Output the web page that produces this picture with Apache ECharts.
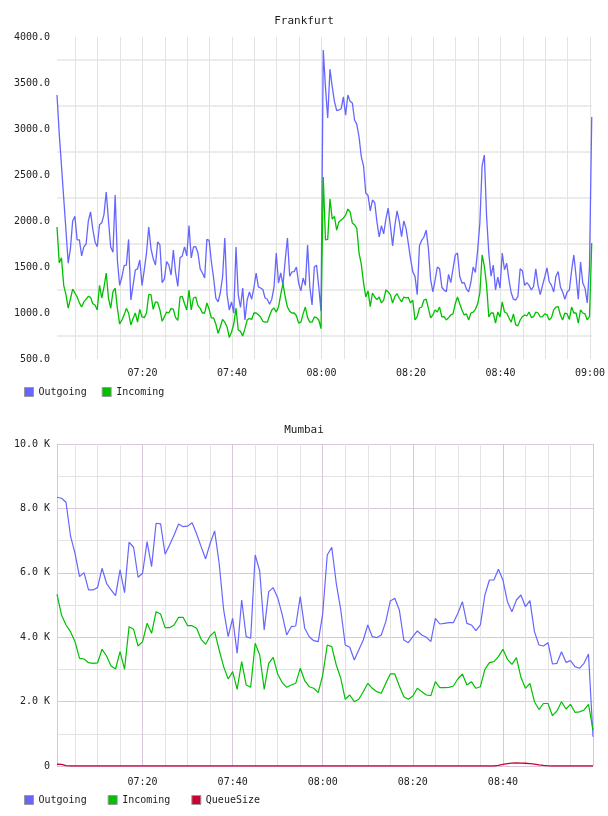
<!DOCTYPE html>
<html><head><meta charset="utf-8">
<script src="https://cdn.jsdelivr.net/npm/echarts@6/dist/echarts.min.js"></script>
<style>html,body{margin:0;padding:0;background:#fff}#c{width:608px;height:816px}</style>
</head><body><div id="c"></div>
<script>
// minutes after 07:00
const topStart = 0.9, topStep = 0.5;
const mumStart = 1, mumStep = 1;
const topTickLabels = ['07:20','07:40','08:00','08:20','08:40','09:00'];
const mumTickLabels = ['07:20','07:40','08:00','08:20','08:40'];
const seriesNames = ['Outgoing','Incoming','QueueSize'];

const frankfurtOutgoing = [
3370,2950,2600,2250,1900,1540,1700,2000,2050,1794,
1794,1620,1718,1750,2000,2100,1910,1772,1720,1960,
1980,2070,2315,2010,1718,1660,2283,1570,1300,1391,
1515,1520,1800,1141,1300,1467,1480,1576,1300,1467,
1650,1935,1700,1590,1520,1772,1740,1330,1370,1560,
1520,1413,1685,1440,1290,1600,1620,1718,1620,1950,
1598,1718,1720,1652,1480,1435,1380,1800,1790,1554,
1380,1160,1120,1220,1391,1815,1200,1033,1120,1000,
1718,1200,1060,1272,924,1141,1230,1150,1272,1435,
1283,1272,1255,1163,1150,1095,1150,1283,1652,1326,
1435,1300,1576,1815,1400,1446,1450,1500,1326,1240,
1380,1300,1740,1283,1087,1500,1520,1283,1020,3859,
3450,3120,3650,3460,3300,3200,3207,3220,3350,3150,
3370,3300,3283,3098,3050,2913,2700,2600,2304,2280,
2110,2228,2200,1990,1826,1950,1860,2020,2140,1950,
1730,1950,2110,1990,1830,2000,1920,1760,1590,1450,
1400,1200,1730,1790,1826,1900,1700,1360,1230,1359,
1500,1480,1280,1250,1230,1420,1330,1480,1630,1652,
1400,1326,1330,1260,1230,1337,1500,1440,1680,1980,
2600,2717,2050,1650,1400,1520,1250,1391,1270,1652,
1470,1540,1359,1220,1150,1141,1180,1480,1460,1300,
1330,1300,1250,1290,1480,1300,1200,1300,1391,1490,
1340,1300,1228,1400,1450,1283,1228,1150,1228,1250,
1460,1631,1400,1150,1554,1326,1270,1109,1500,3130];

const frankfurtIncoming = [
1935,1544,1600,1300,1200,1054,1150,1260,1217,1174,
1110,1065,1120,1150,1180,1170,1100,1087,1033,1300,
1163,1280,1435,1163,1050,1230,1272,1050,880,924,
980,1050,1000,870,940,1000,900,1040,957,950,
1000,1200,1200,1040,1120,1115,1033,910,960,1010,
1000,1050,1040,950,920,1174,1180,1100,1033,1250,
1033,1163,1174,1080,1050,1000,1000,1109,1040,946,
946,880,780,850,930,900,848,735,793,880,
1054,815,800,750,830,924,940,930,1000,1000,
980,957,910,900,900,970,1033,1055,1010,1065,
1200,1320,1174,1065,1020,1000,1000,970,891,900,
990,1065,950,900,900,957,950,924,830,2478,
1794,1800,2240,2020,2050,1900,1990,2011,2030,2065,
2130,2100,1978,1957,1920,1652,1530,1330,1174,1240,
1070,1217,1174,1145,1174,1109,1140,1250,1230,1200,
1109,1180,1210,1160,1120,1174,1165,1170,1109,1140,
924,960,1054,1065,1141,1150,1050,946,980,1033,
1011,1065,957,960,924,950,978,990,1100,1174,
1100,1033,978,990,924,1000,1010,1040,1100,1220,
1631,1510,1300,957,1000,1000,891,1011,957,1120,
1011,1000,946,900,990,870,860,924,960,978,
970,1011,950,960,1011,1000,957,960,990,980,
924,950,1033,1065,1070,978,924,1000,990,930,
1065,1000,1000,891,1033,1000,990,924,960,1761];

const mumbaiOutgoing = [
8346,8315,8191,7144,6606,5880,6004,5467,5467,5539,
6140,5674,5467,5290,6088,5383,6948,6793,5861,5985,
6968,6191,7538,7518,6575,6865,7175,7517,7433,7450,
7557,7206,6812,6430,6917,7300,6296,4846,4016,4588,
3500,5156,4016,3966,6554,6057,4224,5414,5539,5228,
4700,4069,4327,4348,5259,4276,4016,3892,3861,4742,
6554,6793,5674,4846,3758,3686,3292,3603,3913,4380,
4016,3985,4069,4482,5125,5209,4846,3913,3830,4016,
4193,4069,3996,3861,4588,4410,4431,4451,4451,4742,
5103,4431,4380,4203,4380,5311,5777,5777,6109,5777,
5103,4793,5156,5311,4948,5135,4172,3758,3727,3830,
3168,3189,3550,3220,3271,3085,3034,3189,3479,910];

const mumbaiIncoming = [
5333,4690,4380,4172,3861,3345,3323,3209,3189,3200,
3624,3417,3106,3013,3550,3003,4327,4245,3727,3861,
4431,4120,4793,4721,4296,4296,4380,4618,4618,4358,
4358,4276,3934,3779,4038,4172,3603,3085,2702,2929,
2382,3240,2516,2444,3810,3448,2382,3189,3376,2858,
2588,2444,2516,2568,3034,2650,2463,2413,2277,2827,
3758,3706,3137,2724,2072,2205,1997,2072,2308,2568,
2413,2308,2258,2568,2858,2858,2485,2152,2072,2174,
2413,2308,2205,2184,2619,2433,2433,2440,2485,2702,
2858,2516,2619,2413,2463,3003,3209,3240,3396,3624,
3313,3158,3364,2754,2413,2568,1997,1754,1941,1941,
1562,1708,1997,1770,1916,1668,1680,1739,1916,1118];

const mumbaiQueue = [
55,50,10,0,0,0,0,0,0,0,
0,0,0,0,0,0,0,0,0,0,
0,0,0,0,0,0,0,0,0,0,
0,0,0,0,0,0,0,0,0,0,
0,0,0,0,0,0,0,0,0,0,
0,0,0,0,0,0,0,0,0,0,
0,0,0,0,0,0,0,0,0,0,
0,0,0,0,0,0,0,0,0,0,
0,0,0,0,0,0,0,0,0,0,
0,0,0,0,0,0,0,0,20,50,
75,90,95,92,85,72,55,35,18,5,
0,0,0,0,0,0,0,0,0,0];

const colors = {out:'#6666ff', inc:'#00c000', queue:'#cc0033'};
const FONT = 'DejaVu Sans Mono';
const purple = '#dcc6dc', gray = '#e3e3e3';

function pairs(arr, start, step){ return arr.map((v,i)=>[start+i*step, v]); }
function hm(m){ const h = 7 + Math.floor(m/60), mm = Math.round(m%60); return (h<10?'0':'')+h+':'+(mm<10?'0':'')+mm; }
function timeFmt(list){ return function(v){ const s = hm(v); return (Math.abs(v%20)<1e-6 && list.indexOf(s)>=0) ? s : ''; }; }

const chart = echarts.init(document.getElementById('c'), null, {renderer:'canvas'});
const lbl = {fontFamily:FONT, fontSize:10, color:'#222'};
chart.setOption({
  animation:false,
  backgroundColor:'#fff',
  title:[
    {text:'Frankfurt', left:'center', top:11, textStyle:{fontFamily:FONT, fontSize:11, fontWeight:'normal', color:'#222'}},
    {text:'Mumbai', left:'center', top:420, textStyle:{fontFamily:FONT, fontSize:11, fontWeight:'normal', color:'#222'}}
  ],
  legend:[
    {data:['Outgoing','Incoming'], left:24, top:387, orient:'horizontal', icon:'rect', itemWidth:9, itemHeight:9, itemGap:15, padding:0,
     itemStyle:{borderColor:'#999', borderWidth:1}, textStyle:{fontFamily:FONT, fontSize:10, color:'#222'}},
    {data:['Outgoing','Incoming','QueueSize'], left:24, top:795, orient:'horizontal', icon:'rect', itemWidth:9, itemHeight:9, itemGap:21, padding:0,
     itemStyle:{borderColor:'#999', borderWidth:1}, textStyle:{fontFamily:FONT, fontSize:10, color:'#222'}}
  ],
  grid:[
    {left:57, top:37, width:536, height:322},
    {left:57, top:444, width:536, height:322}
  ],
  xAxis:[
    {gridIndex:0, type:'value', min:topStart, max:120.45, splitNumber:24, minInterval:5, maxInterval:5,
     axisLine:{show:false}, axisTick:{show:false},
     axisLabel:Object.assign({margin:9, formatter:timeFmt(topTickLabels), showMinLabel:true, showMaxLabel:true}, lbl),
     splitLine:{show:true, showMinLine:false, showMaxLine:false, lineStyle:{color:gray, width:1}}},
    {gridIndex:1, type:'value', min:mumStart, max:120, splitNumber:24, minInterval:5, maxInterval:5,
     axisLine:{show:false}, axisTick:{show:false},
     axisLabel:Object.assign({margin:11, formatter:timeFmt(mumTickLabels)}, lbl),
     splitLine:{show:true, lineStyle:{color:gray, width:1}}},
    {gridIndex:1, type:'value', min:mumStart, max:120, splitNumber:6, minInterval:20, maxInterval:20, position:'top',
     axisLine:{show:false}, axisTick:{show:false}, axisLabel:{show:false},
     splitLine:{show:true, lineStyle:{color:purple, width:1}}}
  ],
  yAxis:[
    {gridIndex:0, type:'value', min:500, max:4000, interval:500,
     axisLine:{show:false}, axisTick:{show:false},
     axisLabel:Object.assign({margin:7, formatter:v=>v.toFixed(1)}, lbl),
     splitLine:{show:false},
     minorTick:{show:false, splitNumber:2},
     minorSplitLine:{show:true, lineStyle:{color:'#ececec', width:2}}},
    {gridIndex:1, type:'value', min:0, max:10000, interval:2000,
     axisLine:{show:false}, axisTick:{show:false},
     axisLabel:Object.assign({margin:7, formatter:v=> v===0 ? '0' : (v/1000).toFixed(1)+' K'}, lbl),
     splitLine:{show:true, lineStyle:{color:purple, width:1}},
     minorTick:{show:false, splitNumber:2},
     minorSplitLine:{show:true, lineStyle:{color:gray, width:1}}}
  ],
  series:[
    {name:'Outgoing', type:'line', xAxisIndex:0, yAxisIndex:0, data:pairs(frankfurtOutgoing, topStart, topStep),
     showSymbol:false, symbol:'none', color:colors.out, lineStyle:{width:1.3, color:colors.out}},
    {name:'Incoming', type:'line', xAxisIndex:0, yAxisIndex:0, data:pairs(frankfurtIncoming, topStart, topStep),
     showSymbol:false, symbol:'none', color:colors.inc, lineStyle:{width:1.3, color:colors.inc}},
    {name:'Outgoing', type:'line', xAxisIndex:1, yAxisIndex:1, data:pairs(mumbaiOutgoing, mumStart, mumStep),
     showSymbol:false, symbol:'none', color:colors.out, lineStyle:{width:1.2, color:colors.out}},
    {name:'Incoming', type:'line', xAxisIndex:1, yAxisIndex:1, data:pairs(mumbaiIncoming, mumStart, mumStep),
     showSymbol:false, symbol:'none', color:colors.inc, lineStyle:{width:1.2, color:colors.inc}},
    {name:'QueueSize', type:'line', xAxisIndex:1, yAxisIndex:1, data:pairs(mumbaiQueue, mumStart, mumStep),
     showSymbol:false, symbol:'none', color:colors.queue, lineStyle:{width:1.3, color:colors.queue}}
  ]
});
</script></body></html>
